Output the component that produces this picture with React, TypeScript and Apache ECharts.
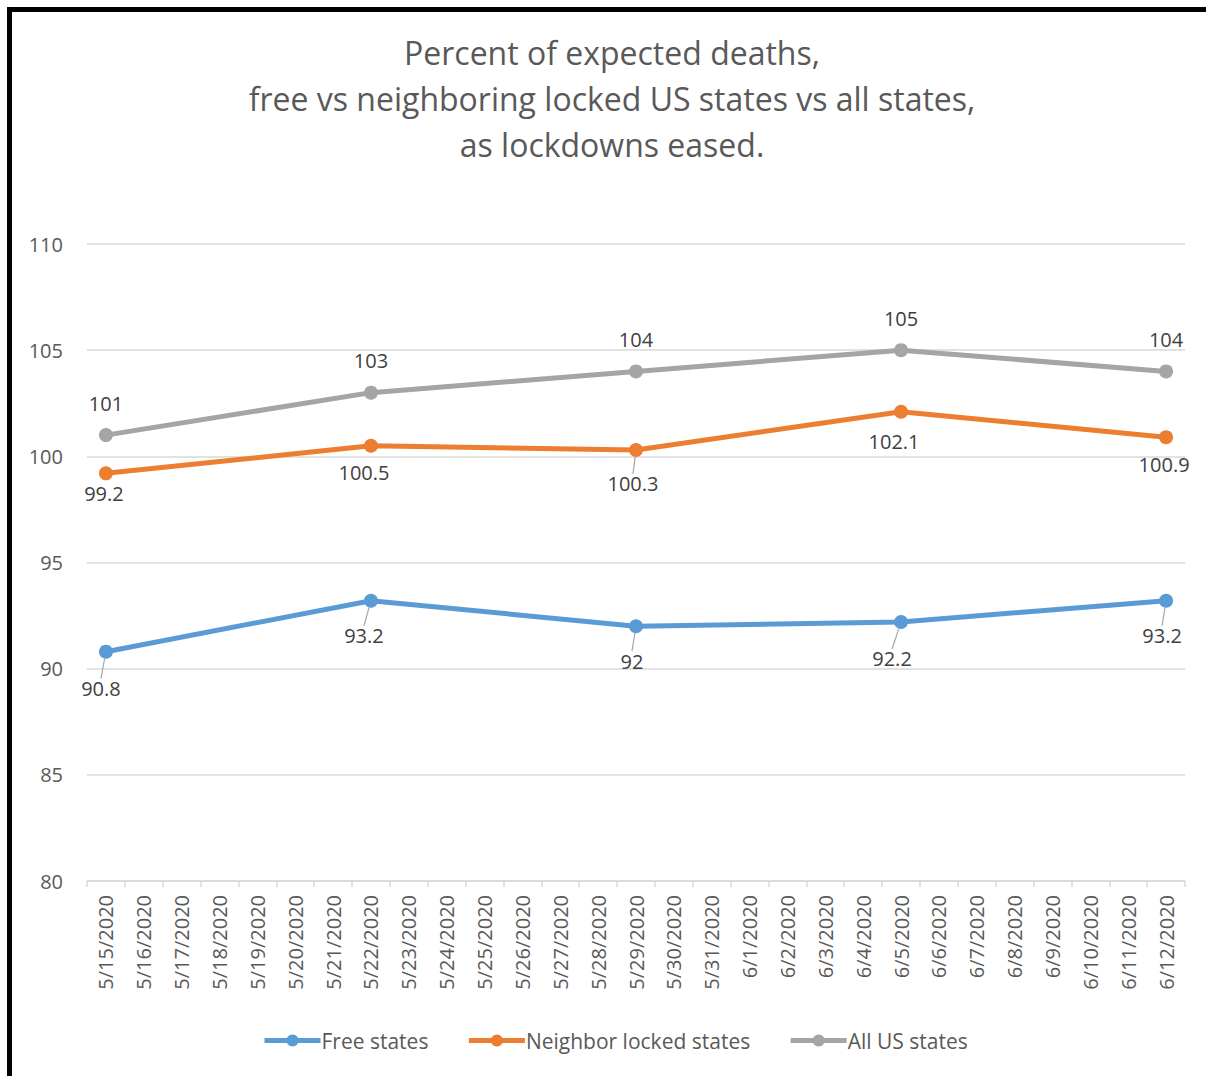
import React, { useEffect, useRef } from "react";
import * as echarts from "echarts";

const categories = [
  "5/15/2020", "5/16/2020", "5/17/2020", "5/18/2020", "5/19/2020", "5/20/2020", "5/21/2020",
  "5/22/2020", "5/23/2020", "5/24/2020", "5/25/2020", "5/26/2020", "5/27/2020", "5/28/2020",
  "5/29/2020", "5/30/2020", "5/31/2020", "6/1/2020", "6/2/2020", "6/3/2020", "6/4/2020",
  "6/5/2020", "6/6/2020", "6/7/2020", "6/8/2020", "6/9/2020", "6/10/2020", "6/11/2020",
  "6/12/2020",
];
const pointDates = ["5/15/2020", "5/22/2020", "5/29/2020", "6/5/2020", "6/12/2020"];
const freeStates = [90.8, 93.2, 92, 92.2, 93.2];
const neighborLocked = [99.2, 100.5, 100.3, 102.1, 100.9];
const allStates = [101, 103, 104, 105, 104];
const yTicks = [80, 85, 90, 95, 100, 105, 110];
const titleLines = [
  "Percent of expected deaths,",
  "free vs neighboring locked US states vs all states,",
  "as lockdowns eased.",
];

// label nudges (style only)
const freeDx = [-5, -7, -4, -9, -4];
const freeDy = [15, 13, 13, 15, 13];
const neighDx = [-2, -7, -3, -7, -2];
const neighDy = [-2, 5, 12, 8, 5];
const neighLine = [false, false, true, false, false];

const FONT = "'Open Sans', 'Noto Sans', sans-serif";

export default function App() {
  const ref = useRef<HTMLDivElement>(null);
  useEffect(() => {
    if (!ref.current) return;
    const chart = echarts.init(ref.current, undefined, { renderer: "svg" });
    const mk = (vals: number[]) => vals.map((v, i) => [pointDates[i], v]);
    const labelStyle = { show: true, color: "#404040", fontSize: 20, fontFamily: FONT };
    const lineLabel = { show: true, lineStyle: { color: "#a6a6a6", width: 1.2 } };
    chart.setOption({
      animation: false,
      backgroundColor: "#ffffff",
      title: {
        text: titleLines.join("\n"),
        left: 607,
        textAlign: "center",
        top: 24,
        textStyle: { color: "#595959", fontSize: 32, fontWeight: "normal", fontFamily: FONT, lineHeight: 46 },
      },
      graphic: [
        { type: "rect", shape: { x: 7, y: 7, width: 1199, height: 5 }, style: { fill: "#000" } },
        { type: "rect", shape: { x: 7, y: 7, width: 5, height: 1069 }, style: { fill: "#000" } },
      ],
      legend: {
        bottom: 20,
        left: 257,
        itemWidth: 56,
        itemHeight: 15,
        itemGap: 38,
        lineStyle: { width: 5 },
        textStyle: { color: "#595959", fontSize: 21, fontFamily: FONT, padding: [0, 0, 0, -4] },
        data: ["Free states", "Neighbor locked states", "All US states"],
      },
      grid: { left: 87, right: 21, top: 244, bottom: 195 },
      xAxis: {
        type: "category",
        data: categories,
        boundaryGap: true,
        axisLine: { lineStyle: { color: "#d9d9d9", width: 1.5 } },
        axisTick: { show: true, interval: 0, length: 6, lineStyle: { color: "#d9d9d9", width: 1.5 } },
        axisLabel: { interval: 0, rotate: 90, margin: 14, color: "#595959", fontSize: 20, fontFamily: FONT },
      },
      yAxis: {
        type: "value",
        min: yTicks[0],
        max: yTicks[yTicks.length - 1],
        interval: 5,
        axisLine: { show: false },
        axisTick: { show: false },
        splitLine: { lineStyle: { color: "#d9d9d9", width: 1.5 } },
        axisLabel: { margin: 24, color: "#595959", fontSize: 20, fontFamily: FONT },
      },
      series: [
        {
          name: "Free states",
          type: "line",
          data: mk(freeStates),
          color: "#5B9BD5",
          symbol: "circle",
          symbolSize: 14,
          lineStyle: { width: 5 },
          label: { ...labelStyle, position: "bottom", distance: 5 },
          labelLine: lineLabel,
          labelLayout: (p: any) => ({ dx: freeDx[p.dataIndex], dy: freeDy[p.dataIndex] }),
        },
        {
          name: "Neighbor locked states",
          type: "line",
          data: mk(neighborLocked).map((v, i) => ({ value: v, labelLine: { show: neighLine[i], lineStyle: { color: "#a6a6a6", width: 1.2 } } })),
          color: "#ED7D31",
          symbol: "circle",
          symbolSize: 14,
          lineStyle: { width: 5 },
          label: { ...labelStyle, position: "bottom", distance: 5 },
          labelLayout: (p: any) => ({ dx: neighDx[p.dataIndex], dy: neighDy[p.dataIndex] }),
        },
        {
          name: "All US states",
          type: "line",
          data: mk(allStates),
          color: "#A5A5A5",
          symbol: "circle",
          symbolSize: 14,
          lineStyle: { width: 5 },
          label: { ...labelStyle, position: "top", distance: 15 },
        },
      ],
    });
    return () => chart.dispose();
  }, []);
  return <div ref={ref} style={{ position: "absolute", left: 0, top: 0, width: 1206, height: 1076 }} />;
}
